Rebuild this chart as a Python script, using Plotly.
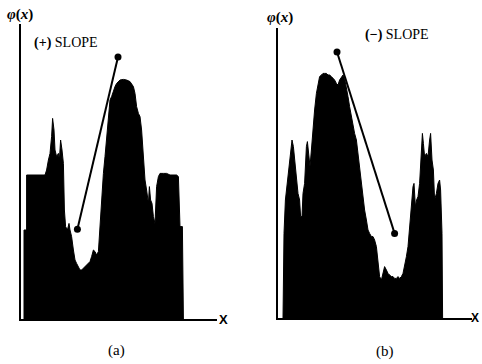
import plotly.graph_objects as go

# ---- Panel (a): (+) slope ----
a_x = [1.5, 1.5, 2.8, 2.8, 12, 12.8, 13.7, 14.5, 15.3, 15.8, 16.5, 17, 17.8, 18.7, 19.2, 19.8,
       20.5, 21.2, 21.7, 22.3, 23.2, 24, 24.5, 25.3, 26.2, 27, 27.8, 28.7, 29.5, 30.3, 31.2, 32,
       32.8, 33.7, 34.5, 35.3, 36.2, 37, 37.8, 38.7, 39.5, 40.3, 41.2, 42, 42.8, 43.7, 44.5, 45.3,
       46.2, 47, 47.8, 48.7, 49.5, 51.2, 52.8, 54.5, 56.2, 57, 57.8, 58.7, 59.5, 60.3, 61.2, 62,
       62.8, 63.7, 64.2, 64.8, 65.5, 66.2, 67, 67.8, 68.7, 69.5, 71.2, 72.8, 74.5, 76.2, 77.8,
       78.7, 79.5, 80.7, 81.2]
a_phi = [0, 44.5, 44.5, 72, 72, 74.5, 79.5, 82.8, 91.2, 100.3, 94.5, 84.5, 81.2, 82.8, 79.5, 89.5,
         84.5, 77.8, 54.5, 46.2, 44.5, 47.8, 44.5, 41.2, 34.5, 29.5, 27.8, 26.2, 24.5, 24.5, 25.3, 26.2,
         27, 27.8, 28.7, 31.2, 34.5, 33.7, 32, 33.7, 46.2, 62.8, 72.8, 81.2, 91.2, 102.8, 109.5, 111.2,
         114.5, 116.2, 117.8, 118.7, 119.5, 119.8, 119.5, 118.7, 116.2, 112.8, 106.2, 102.8, 101.2, 94.5,
         82.8, 69.5, 64.5, 57.8, 66.2, 59.5, 57.8, 51.2, 47.8, 66.2, 71.2, 72.8, 72.8, 72.8, 72, 72, 72,
         71.2, 46.2, 46.2, 0]
a_slope_x = [28.2, 48.5]
a_slope_phi = [44.9, 131]

# ---- Panel (b): (-) slope ----
b_x = [2.5, 3, 3.7, 4.7, 5.5, 6.3, 7, 7.7, 8.3, 9.2, 10, 10.8, 11.3, 12, 12.5, 13.3, 14.2, 14.7,
       15.3, 16, 16.7, 17.5, 18.3, 19.2, 20, 20.8, 21.7, 22.5, 23.3, 24.2, 25, 25.8, 26.7, 27.5,
       28.3, 29.2, 30, 30.8, 31.7, 32.5, 33.3, 34.2, 35, 35.8, 36.7, 37.5, 38.3, 39.2, 40, 40.8,
       41.7, 42.5, 43.3, 44.2, 45, 45.8, 46.7, 47.5, 48.3, 49.2, 50, 50.8, 51.7, 52.5, 53.3, 54.2,
       55, 55.8, 56.7, 57.5, 58.3, 59.2, 60, 60.8, 61.7, 62.5, 63.3, 64.2, 65, 65.8, 66.7, 67.5,
       68, 68.7, 69.3, 70, 70.8, 71.7, 72.2, 72.7, 73.3, 74.2, 75, 75.8, 76.3, 77, 77.7, 78.3,
       79.2, 80, 80.8, 81.3, 82, 82.3]
b_phi = [0, 42.3, 59, 69, 77.3, 82.3, 89, 85.7, 79, 69, 62.3, 59, 50.7, 50.7, 62.3, 67.3, 85.7, 88.2,
         80.7, 75.7, 84, 95.7, 104, 112.3, 117.3, 120.7, 121.5, 122.3, 122.3, 122.3, 121.5, 121.5,
         120.7, 119.8, 119, 117.3, 116.5, 119, 120.7, 121.5, 119.8, 115.7, 110.7, 105.7, 100.7, 95.7,
         92.3, 89, 82.3, 74, 65.7, 60.7, 54, 49, 44, 42.3, 40.7, 40.7, 39, 35.7, 29, 20.7, 19, 22.3,
         25.7, 24, 22.3, 21.5, 20.7, 20.7, 19.8, 19.8, 20.7, 19.8, 20.7, 22.3, 25.7, 30.7, 35.7, 45.7,
         54, 65.7, 67.3, 55.7, 59, 60.7, 67.3, 80.7, 92.3, 87.3, 80.7, 82.3, 80.7, 89, 92.3, 79, 74,
         59, 62.3, 67.3, 69, 64, 42.3, 0]
b_slope_x = [29.5, 58.3]
b_slope_phi = [133, 42.3]

W, H = 482, 364

fig = go.Figure()

fig.add_trace(go.Scatter(x=a_x, y=a_phi, mode="lines", fill="tozeroy",
                         fillcolor="black", line=dict(color="black", width=1),
                         xaxis="x", yaxis="y", hoverinfo="skip"))
fig.add_trace(go.Scatter(x=a_slope_x, y=a_slope_phi, mode="lines+markers",
                         line=dict(color="black", width=2),
                         marker=dict(color="black", size=7),
                         xaxis="x", yaxis="y", hoverinfo="skip"))
fig.add_trace(go.Scatter(x=b_x, y=b_phi, mode="lines", fill="tozeroy",
                         fillcolor="black", line=dict(color="black", width=1),
                         xaxis="x2", yaxis="y2", hoverinfo="skip"))
fig.add_trace(go.Scatter(x=b_slope_x, y=b_slope_phi, mode="lines+markers",
                         line=dict(color="black", width=2),
                         marker=dict(color="black", size=7),
                         xaxis="x2", yaxis="y2", hoverinfo="skip"))

ax_common = dict(showgrid=False, zeroline=False, showticklabels=False, ticks="",
                 showline=True, linecolor="black", linewidth=1.5, fixedrange=True)

fig.update_layout(
    width=W, height=H,
    margin=dict(l=0, r=0, t=0, b=0),
    paper_bgcolor="white", plot_bgcolor="white",
    showlegend=False,
    xaxis=dict(domain=[21 / W, 217 / W], range=[0, 98], anchor="y", **ax_common),
    yaxis=dict(domain=[1 - 319 / H, 1 - 24 / H], range=[0, 147.5], anchor="x", **ax_common),
    xaxis2=dict(domain=[278 / W, 472 / W], range=[0, 97], anchor="y2", **ax_common),
    yaxis2=dict(domain=[1 - 318 / H, 1 - 28 / H], range=[0, 145], anchor="x2", **ax_common),
)

serif = "Liberation Serif"
def ann(text, px, py, size, family=serif, xanchor="center"):
    fig.add_annotation(text=text, x=px / W, y=1 - py / H, xref="paper", yref="paper",
                       showarrow=False, xanchor=xanchor, yanchor="middle",
                       font=dict(family=family, size=size, color="black"))

ann("<b><i>φ</i>(<i>x</i>)</b>", 20, 15, 15)
ann("<b><i>φ</i>(<i>x</i>)</b>", 280, 17, 15)
ann("<b>(+)</b> SLOPE", 66, 43, 14)
ann("<b>(−)</b> SLOPE", 397, 35, 14)
ann("<b>X</b>", 223, 319, 13, family="Liberation Sans")
ann("<b>X</b>", 481, 318, 12, family="Liberation Sans", xanchor="right")
ann("(a)", 116, 350, 15)
ann("(b)", 385, 351, 15)

fig.write_html("out.html", config={"displayModeBar": False},
               post_script="document.body.style.margin='0';document.body.style.overflow='hidden';")
